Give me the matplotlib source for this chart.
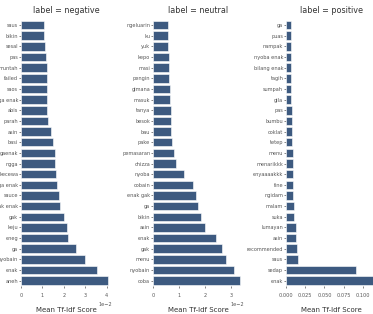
import numpy as np
import matplotlib
matplotlib.use('Agg')
import matplotlib.pyplot as plt
from matplotlib.ticker import MultipleLocator
import seaborn as sns

# top-25 words per label, mean tf-idf
neg_words = ['saus', 'bikin', 'sesal', 'pas', 'muntah', 'failed', 'saos', 'ngga enak', 'abis',
             'parah', 'asin', 'basi', 'gaenak', 'ngga', 'kecewa', 'ga enak', 'sauce', 'gak enak',
             'gak', 'keju', 'eneg', 'ga', 'nyobain', 'enak', 'aneh']
neg_scores = [1.06, 1.06, 1.11, 1.16, 1.21, 1.22, 1.22, 1.23, 1.23,
              1.26, 1.42, 1.49, 1.58, 1.58, 1.63, 1.67, 1.76, 1.83,
              2.0, 2.15, 2.2, 2.56, 3.0, 3.55, 4.05]  # x 1e-2

neu_words = ['ngeluarin', 'ku', 'yuk', 'kepo', 'masi', 'pengin', 'gimana', 'masuk', 'tanya',
             'besok', 'bau', 'pake', 'pemasaran', 'chizza', 'nyoba', 'cobain', 'enak gak', 'ga',
             'bikin', 'asin', 'enak', 'gak', 'menu', 'nyobain', 'coba']
neu_scores = [0.58, 0.58, 0.59, 0.60, 0.62, 0.62, 0.65, 0.65, 0.69,
              0.69, 0.70, 0.73, 0.82, 0.87, 1.18, 1.56, 1.66, 1.74,
              1.86, 1.99, 2.42, 2.66, 2.81, 3.14, 3.34]  # x 1e-2

pos_words = ['ga', 'puas', 'nampak', 'nyoba enak', 'bilang enak', 'tagih', 'sumpah', 'gila', 'pas',
             'bumbu', 'coklat', 'tetep', 'menu', 'menarikkk', 'enyaaaakkk', 'fine', 'ngidam',
             'malam', 'suka', 'lumayan', 'asin', 'recommended', 'saus', 'sedap', 'enak']
pos_scores = [0.0068, 0.0068, 0.0068, 0.0069, 0.0069, 0.0069, 0.0071, 0.0071, 0.0072,
              0.0080, 0.0080, 0.0084, 0.0088, 0.0090, 0.0092, 0.0094, 0.0095,
              0.0105, 0.0105, 0.0126, 0.0127, 0.0140, 0.0150, 0.0909, 0.1127]

labels = ['negative', 'neutral', 'positive']
words = [neg_words, neu_words, pos_words]
scores = [np.array(neg_scores) * 1e-2, np.array(neu_scores) * 1e-2, np.array(pos_scores)]
steps = [0.01, 0.01, 0.025]

sns.set_style('ticks')
plt.rcParams['font.family'] = ['DejaVu Sans']

bar_color = '#3d5a80'
W, H = 373, 314
fig = plt.figure(figsize=(W / 100, H / 100), dpi=100)

lefts = [21, 153, 286]
ax_w, ax_top, ax_bot = 91, 19.7, 286

for i in range(3):
    ax = fig.add_axes([lefts[i] / W, 1 - ax_bot / H, ax_w / W, (ax_bot - ax_top) / H])
    y = np.arange(len(words[i]))
    ax.barh(y, scores[i], height=0.8, color=bar_color, edgecolor='white', linewidth=0.4)
    ax.set_yticks(y)
    ax.set_yticklabels(words[i])
    ax.set_ylim(len(words[i]) - 0.5, -0.5)
    ax.margins(x=0.05)
    ax.xaxis.set_major_locator(MultipleLocator(steps[i]))
    if i < 2:
        ax.ticklabel_format(axis='x', style='sci', scilimits=(-2, -2))
        ax.xaxis.get_offset_text().set_fontsize(3.6)
        ax.xaxis.get_offset_text().set_color('#555555')
    ax.tick_params(axis='both', labelsize=3.6, colors='#555555', width=0.5)
    ax.tick_params(axis='y', length=1.2, pad=0.8)
    ax.tick_params(axis='x', length=1.5, pad=3.5)
    ax.set_xlabel('Mean Tf-Idf Score', fontsize=5, color='#333333')
    ax.xaxis.set_label_coords(0.5, -0.079)
    ax.set_title(f'label = {labels[i]}', fontsize=5.8, color='#333333', pad=5)
    for s in ax.spines.values():
        s.set_visible(False)

fig.savefig('out.png', dpi=100)
